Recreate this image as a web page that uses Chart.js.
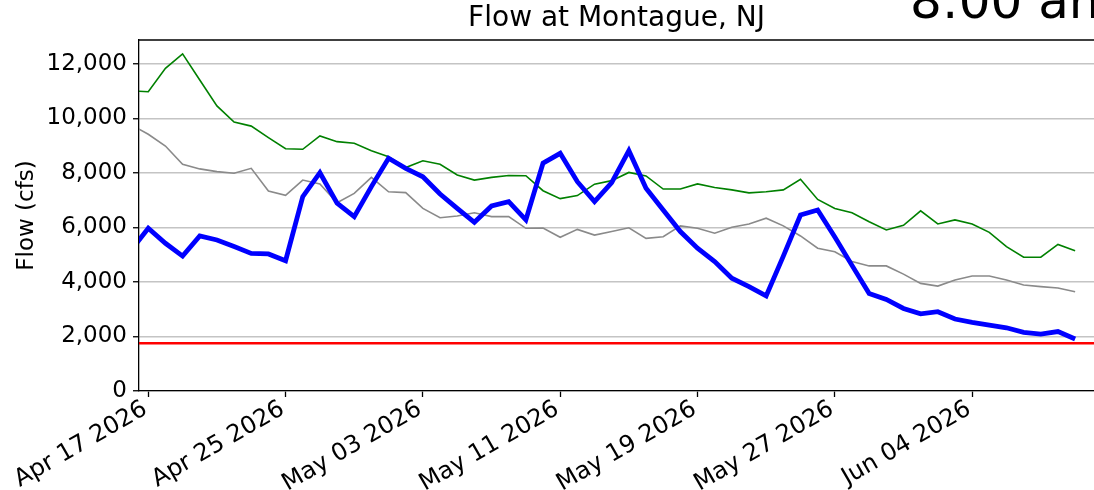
<!DOCTYPE html>
<html lang="en">
<head>
    <meta charset="UTF-8">
    <title>Flow at Montague, NJ</title>
    <style>
        html, body { margin: 0; padding: 0; background: #fff; overflow: hidden; }
        #wrap { position: relative; width: 1094px; height: 490px; overflow: hidden; }
        #clock {
            position: absolute; left: 910px; top: -24px;
            font-family: 'DejaVu Sans'; font-size: 50px; line-height: 50px;
            white-space: nowrap; color: #000;
        }
    </style>
</head>
<body>
    <div id="wrap">
        <canvas id="flowChart" width="1094" height="490"></canvas>
        <div id="clock">8:00 am</div>
    </div>

    <script src="https://cdn.jsdelivr.net/npm/chart.js"></script>
    <script>
        // daily values, first entry is Apr 16 2026 (just left of the axis)
        const startDay = -1;

        const observed = [5170, 5970, 5420, 4950, 5690, 5540, 5300, 5050, 5030, 4780,
            7130, 8010, 6890, 6400, 7500, 8540, 8170, 7860, 7230, 6700,
            6190, 6790, 6950, 6280, 8360, 8720, 7680, 6950, 7650, 8820,
            7440, 6640, 5850, 5240, 4750, 4140, 3830, 3490, 4950, 6460,
            6640, 5650, 4610, 3580, 3360, 3030, 2830, 2910, 2640, 2520,
            2420, 2320, 2150, 2090, 2180, 1910];

        const upper = [11020, 10980, 11840, 12370, 11410, 10460, 9870, 9720, 9300, 8890,
            8870, 9360, 9150, 9090, 8820, 8600, 8200, 8450, 8320, 7930,
            7740, 7840, 7910, 7900, 7350, 7060, 7170, 7590, 7720, 8020,
            7890, 7410, 7410, 7600, 7470, 7380, 7270, 7310, 7380, 7770,
            7030, 6700, 6540, 6210, 5910, 6080, 6610, 6130, 6280, 6130,
            5820, 5300, 4910, 4910, 5380, 5150];

        const median = [9770, 9420, 8990, 8320, 8150, 8050, 7990, 8170, 7340, 7180,
            7740, 7600, 6910, 7250, 7840, 7310, 7280, 6700, 6360, 6420,
            6540, 6400, 6400, 5970, 5980, 5640, 5930, 5720, 5850, 5990,
            5600, 5660, 6060, 5970, 5790, 6010, 6130, 6340, 6060, 5690,
            5240, 5110, 4750, 4590, 4590, 4290, 3950, 3850, 4070, 4220,
            4220, 4070, 3890, 3830, 3780, 3640];

        const target = 1750;

        const xTicks = [0, 8, 16, 24, 32, 40, 48];
        const xTickLabels = ['Apr 17 2026', 'Apr 25 2026', 'May 03 2026', 'May 11 2026',
            'May 19 2026', 'May 27 2026', 'Jun 04 2026'];
        const yTicks = [0, 2000, 4000, 6000, 8000, 10000, 12000];

        const xMin = -0.54, xMax = 55.1, yMax = 12880;

        function toPoints(arr) {
            return arr.map((v, i) => ({ x: startDay + i, y: v }));
        }

        const font = { family: 'DejaVu Sans', size: 23 };

        // top spine like the original frame
        const topSpine = {
            id: 'topSpine',
            afterDraw(chart) {
                const a = chart.chartArea, c = chart.ctx;
                c.save();
                c.strokeStyle = '#000';
                c.lineWidth = 1.3;
                c.beginPath();
                c.moveTo(a.left, a.top);
                c.lineTo(a.right, a.top);
                c.stroke();
                c.restore();
            }
        };

        new Chart(document.getElementById('flowChart'), {
            type: 'line',
            data: {
                datasets: [
                    { data: [{ x: -1, y: target }, { x: 56, y: target }], borderColor: '#ff0000', borderWidth: 2.6, order: 0 },
                    { data: toPoints(observed), borderColor: '#0000ff', borderWidth: 4.8, order: 1 },
                    { data: toPoints(upper), borderColor: '#008000', borderWidth: 1.6, order: 2 },
                    { data: toPoints(median), borderColor: '#8a8a8a', borderWidth: 1.6, order: 3 }
                ]
            },
            options: {
                responsive: false,
                animation: false,
                clip: 0,
                layout: { padding: 0 },
                elements: {
                    point: { radius: 0 },
                    line: { tension: 0, fill: false }
                },
                plugins: {
                    legend: { display: false },
                    tooltip: { enabled: false },
                    title: {
                        display: true,
                        text: 'Flow at Montague, NJ',
                        color: '#000',
                        fullSize: false,
                        font: { family: 'DejaVu Sans', size: 28, weight: 'normal', lineHeight: 1.2 },
                        padding: { top: 2, bottom: 4.4 }
                    }
                },
                scales: {
                    x: {
                        type: 'linear',
                        min: xMin,
                        max: xMax,
                        afterFit(scale) { scale.height = 99; },
                        afterBuildTicks(scale) { scale.ticks = xTicks.map(v => ({ value: v })); },
                        grid: { drawOnChartArea: false, tickLength: 6, tickColor: '#000', tickWidth: 1.3 },
                        border: { color: '#000', width: 1.3 },
                        ticks: {
                            autoSkip: false,
                            maxRotation: 30,
                            minRotation: 30,
                            padding: -2,
                            labelOffset: -3,
                            color: '#000',
                            font: { family: 'DejaVu Sans', size: 24 },
                            callback(v) {
                                const i = xTicks.indexOf(v);
                                return i >= 0 ? xTickLabels[i] : '';
                            }
                        }
                    },
                    y: {
                        min: 0,
                        max: yMax,
                        afterFit(scale) { scale.width = 139; },
                        afterBuildTicks(scale) { scale.ticks = yTicks.map(v => ({ value: v })); },
                        grid: { color: '#c4c4c4', lineWidth: 1.5, tickLength: 6, tickColor: '#000', tickWidth: 1.3 },
                        border: { color: '#000', width: 1.3 },
                        title: {
                            display: true,
                            text: 'Flow (cfs)',
                            color: '#000',
                            font: font,
                            padding: { top: 13, bottom: 0 }
                        },
                        ticks: {
                            padding: 6,
                            color: '#000',
                            font: font,
                            callback(v) { return v.toLocaleString('en-US'); }
                        }
                    }
                }
            },
            plugins: [topSpine]
        });
    </script>
</body>
</html>
